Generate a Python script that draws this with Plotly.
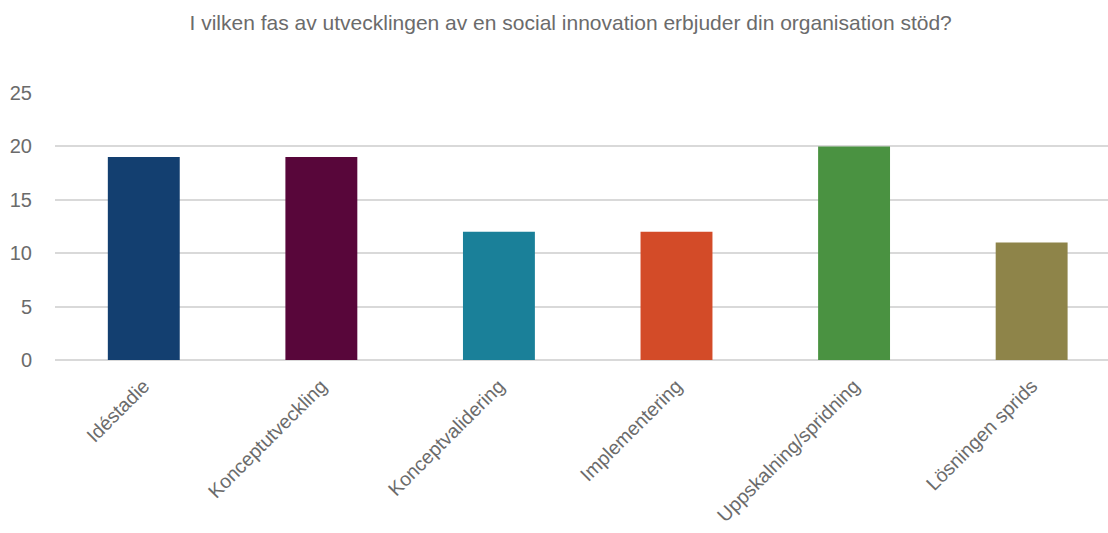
import plotly.graph_objects as go

categories = ["Idéstadie", "Konceptutveckling", "Konceptvalidering", "Implementering",
              "Uppskalning/spridning", "Lösningen sprids"]
values = [19, 19, 12, 12, 20, 11]
colors = ["#133F70", "#58063A", "#1A8099", "#D34B28", "#4A9241", "#8E8449"]
y_ticks = [0, 5, 10, 15, 20, 25]
title = "I vilken fas av utvecklingen av en social innovation erbjuder din organisation stöd?"

fig = go.Figure(go.Bar(x=categories, y=values, marker_color=colors, width=0.405,
                       marker_line_width=0, hoverinfo="skip"))

fig.update_layout(
    width=1108, height=533,
    margin=dict(l=55, r=0, t=93, b=173, autoexpand=False),
    paper_bgcolor="white", plot_bgcolor="white",
    title=dict(text=title, x=0.515, xanchor="center", y=0.958, yanchor="middle",
               font=dict(family="Liberation Sans Narrow, Arial Narrow, sans-serif", size=21, color="#6b6b6b")),
    font=dict(family="Liberation Sans, Arial, sans-serif", color="#6b6b6b"),
    showlegend=False,
)
fig.update_yaxes(range=[0, 25], tickvals=y_ticks, showgrid=True, gridcolor="#d9d9d9", gridwidth=2,
                 zeroline=True, zerolinecolor="#d9d9d9", zerolinewidth=2, automargin=False,
                 tickfont=dict(size=20, color="#6b6b6b"), ticks="outside", ticklen=18,
                 tickcolor="rgba(0,0,0,0)", showline=False, fixedrange=True)
fig.update_xaxes(range=[-0.5, 5.43], tickangle=-45, tickfont=dict(size=19.5, color="#6b6b6b"),
                 automargin=False, showline=False, showgrid=False, ticks="outside", ticklen=6,
                 tickcolor="rgba(0,0,0,0)", fixedrange=True)

fig.write_html("out.html", config={"displayModeBar": False, "staticPlot": True},
               post_script="document.body.style.margin='0';document.body.style.padding='0';")
